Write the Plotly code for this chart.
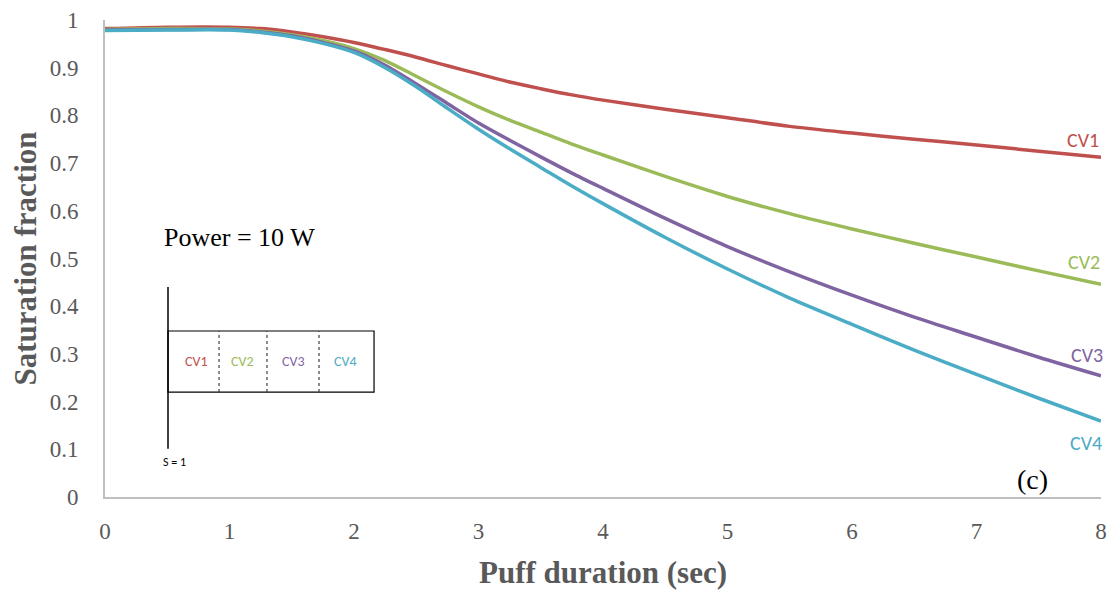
import plotly.graph_objects as go

# Puff duration (sec)
puff_time = [0, 0.5, 1, 1.25, 1.5, 1.75, 2, 2.25, 2.5, 2.75, 3, 3.25, 3.5, 3.75, 4,
             4.5, 5, 5.5, 6, 6.5, 7, 7.5, 8]

# Saturation fraction in each control volume
cv1 = [0.982, 0.985, 0.985, 0.982, 0.975, 0.965, 0.953, 0.938, 0.922, 0.904, 0.887,
       0.870, 0.856, 0.843, 0.832, 0.813, 0.795, 0.777, 0.763, 0.750, 0.738, 0.725, 0.712]
cv2 = [0.980, 0.982, 0.981, 0.977, 0.969, 0.957, 0.940, 0.915, 0.882, 0.849, 0.818,
       0.790, 0.765, 0.740, 0.717, 0.672, 0.630, 0.594, 0.562, 0.532, 0.503, 0.474, 0.446]
cv3 = [0.979, 0.980, 0.980, 0.975, 0.967, 0.953, 0.935, 0.905, 0.866, 0.825, 0.784,
       0.748, 0.713, 0.679, 0.647, 0.584, 0.525, 0.472, 0.423, 0.377, 0.335, 0.293, 0.254]
cv4 = [0.978, 0.979, 0.979, 0.974, 0.965, 0.951, 0.932, 0.900, 0.860, 0.815, 0.771,
       0.730, 0.691, 0.652, 0.615, 0.544, 0.478, 0.417, 0.362, 0.308, 0.257, 0.207, 0.159]

series_names = ["CV1", "CV2", "CV3", "CV4"]
series_values = [cv1, cv2, cv3, cv4]
colors = ["#C0504D", "#9BBB59", "#8064A2", "#4BACC6"]

fig = go.Figure()
for name, vals, col in zip(series_names, series_values, colors):
    fig.add_trace(go.Scatter(
        x=puff_time, y=vals, mode="lines", name=name,
        line=dict(color=col, width=3.5, shape="spline", smoothing=0.8),
        showlegend=False,
    ))

serif = "Liberation Serif, Times New Roman, serif"
sans = "Carlito, Open Sans, Liberation Sans, sans-serif"
grey = "#595959"
axis_grey = "#BFBFBF"

# End-of-curve labels
end_labels = [(7.855, 0.748), (7.86, 0.493), (7.89, 0.298), (7.88, 0.113)]
annotations = []
for (lx, ly), name, col in zip(end_labels, series_names, colors):
    annotations.append(dict(x=lx, y=ly, xref="x", yref="y", text=name, showarrow=False,
                            font=dict(family=sans, size=20, color=col)))

annotations += [
    dict(x=1.084, y=0.543, xref="x", yref="y", text="Power = 10 W", showarrow=False,
         font=dict(family=serif, size=26, color="black")),
    dict(x=7.446, y=0.036, xref="x", yref="y", text="(c)", showarrow=False,
         font=dict(family=serif, size=28, color="black")),
    dict(x=0.562, y=0.073, xref="x", yref="y", text="S = 1", showarrow=False,
         font=dict(family=sans, size=12, color="black")),
]

# Schematic of the four control volumes
cell_centres = [0.731, 1.108, 1.518, 1.928]
for cx, name, col in zip(cell_centres, series_names, colors):
    annotations.append(dict(x=cx, y=0.285, xref="x", yref="y", text=name, showarrow=False,
                            font=dict(family=sans, size=14, color=col)))

shapes = [
    dict(type="line", xref="x", yref="y", x0=0.506, x1=0.506, y0=0.101, y1=0.440,
         line=dict(color="black", width=1.5)),
    dict(type="rect", xref="x", yref="y", x0=0.506, x1=2.161, y0=0.220, y1=0.348,
         line=dict(color="black", width=1.2)),
]
for dx in [0.916, 1.301, 1.719]:
    shapes.append(dict(type="line", xref="x", yref="y", x0=dx, x1=dx, y0=0.220, y1=0.348,
                       line=dict(color="#404040", width=1.2, dash="dot")))

fig.update_layout(
    width=1117, height=590,
    margin=dict(l=105, r=16, t=20, b=93, autoexpand=False),
    paper_bgcolor="white", plot_bgcolor="white",
    annotations=annotations, shapes=shapes,
    xaxis=dict(
        range=[0, 8], dtick=1, showgrid=False, zeroline=False, automargin=False,
        showline=True, linecolor=axis_grey, linewidth=2, ticks="",
        ticklabelstandoff=12,
        tickfont=dict(family=serif, size=23, color=grey),
        title=dict(text="<b>Puff duration (sec)</b>", standoff=19,
                   font=dict(family=serif, size=31, color=grey)),
    ),
    yaxis=dict(
        range=[0, 1], dtick=0.1, showgrid=False, zeroline=False, automargin=False,
        showline=True, linecolor=axis_grey, linewidth=2, ticks="",
        ticklabelstandoff=20,
        tickfont=dict(family=serif, size=23, color=grey),
        title=dict(text="<b>Saturation fraction</b>", standoff=4,
                   font=dict(family=serif, size=31, color=grey)),
    ),
)

fig.write_html("out.html")
